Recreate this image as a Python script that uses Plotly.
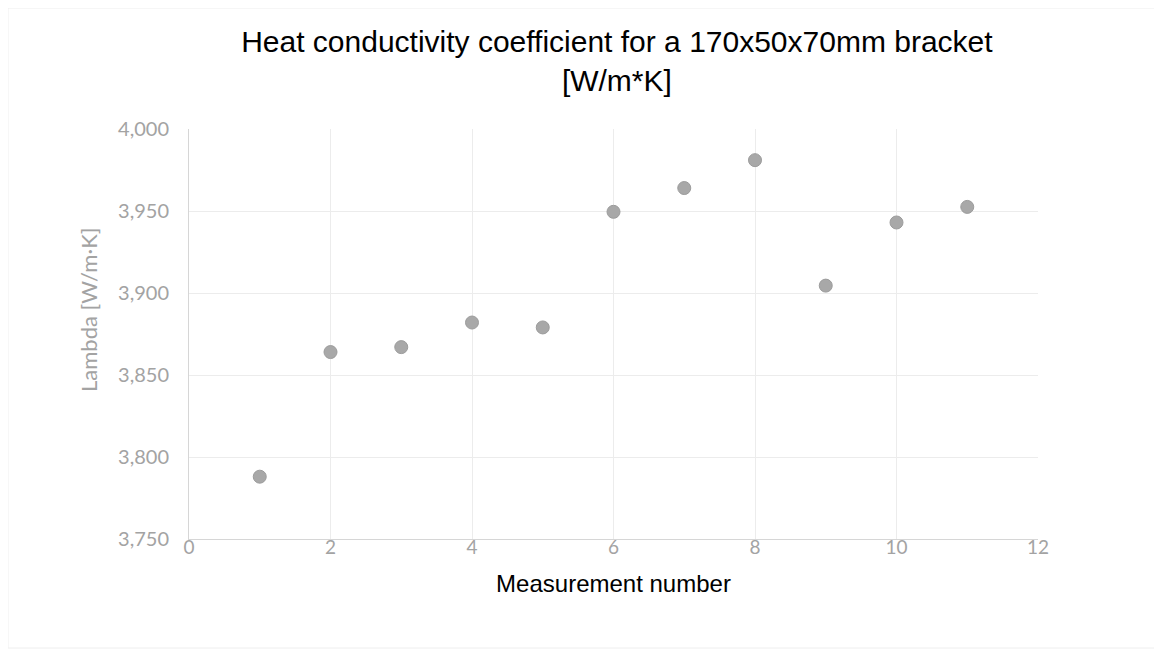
import plotly.graph_objects as go

measurement = [1, 2, 3, 4, 5, 6, 7, 8, 9, 10, 11]
lambda_vals = [3.788, 3.864, 3.867, 3.882, 3.879, 3.9495, 3.964, 3.981, 3.9045, 3.943, 3.9525]

title_text = "Heat conductivity coefficient for a 170x50x70mm bracket<br>[W/m*K]"
x_title = "Measurement number"
y_title = "Lambda [W/m·K]"

fig = go.Figure()
fig.add_trace(go.Scatter(
    x=measurement, y=lambda_vals, mode="markers",
    marker=dict(size=13, color="#a8a8a8", line=dict(width=1, color="#9c9c9c")),
    showlegend=False,
))

fig.update_layout(
    width=1162, height=651,
    paper_bgcolor="white", plot_bgcolor="white",
    margin=dict(l=181, r=132, t=121, b=120),
    separators=",.",
    title=dict(text=title_text, x=0.524, xanchor="center", y=0.932, yanchor="top",
               font=dict(family="Liberation Sans, Arial", size=30, color="black")),
    xaxis=dict(range=[0, 12], dtick=2, tick0=0, showgrid=True, gridcolor="#ececec",
               zeroline=False, showline=True, linecolor="#d6d6d6", linewidth=1,
               ticks="", ticklabelstandoff=-9,
               tickfont=dict(family="Lato", size=19, color="#a3a3a3"),
               title=dict(text=x_title, standoff=18,
                          font=dict(family="Liberation Sans, Arial", size=24, color="black"))),
    yaxis=dict(range=[3.75, 4.0], dtick=0.05, tick0=3.75, tickformat=".3f",
               showgrid=True, gridcolor="#ececec", zeroline=False,
               showline=True, linecolor="#d6d6d6", linewidth=1, ticks="",
               ticklabelstandoff=15,
               tickfont=dict(family="Lato", size=20, color="#a3a3a3")),
)

fig.add_annotation(text=y_title, xref="paper", yref="paper", x=-0.119, y=0.5585,
                   xanchor="center", yanchor="middle", textangle=-90, showarrow=False,
                   font=dict(family="Lato", size=22, color="#a3a3a3"))

fig.add_shape(type="rect", xref="paper", yref="paper",
              x0=-0.2132, x1=1.1378, y0=-0.266, y1=1.295,
              line=dict(color="#eeeeee", width=1), layer="below")

fig.write_html("out.html")
